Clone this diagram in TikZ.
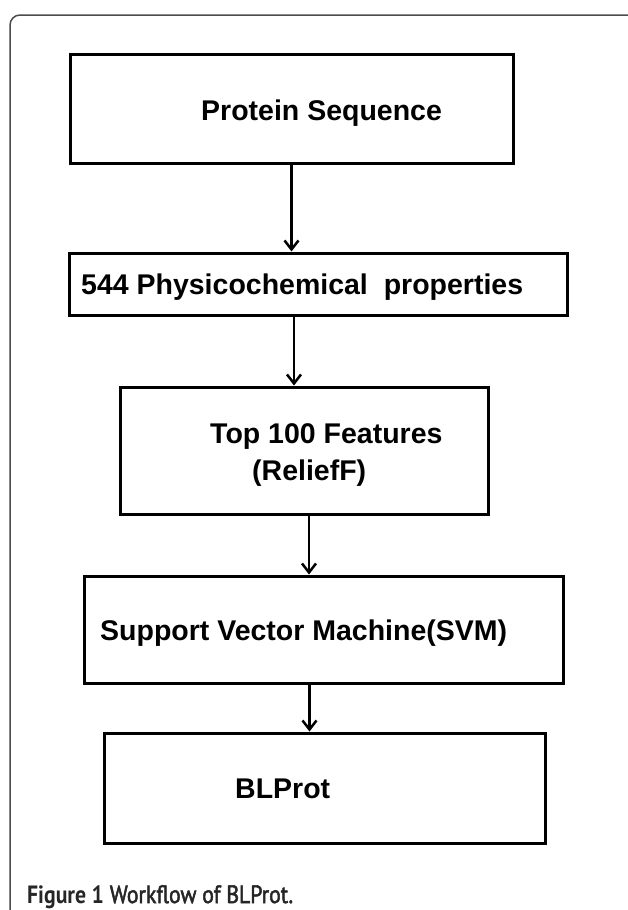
\documentclass[tikz,border=0pt]{standalone}
\usepackage{fontspec}
\setmainfont{Liberation Sans}
\newfontfamily\capfont[FakeStretch=0.87, UprightFeatures={FakeBold=2}]{PT Sans}
\usetikzlibrary{arrows.meta}

\tikzset{
  stage/.style={draw, line width=3pt, inner sep=0pt},
  lbl/.style={font=\fontsize{28.5}{37}\selectfont\bfseries, inner sep=0pt, anchor=base west},
  flow/.style={line width=2.5pt, -{Straight Barb[length=9pt,width=14pt]}}
}

\begin{document}
\begin{tikzpicture}[x=1pt,y=-1pt]
\useasboundingbox (0,0) rectangle (628,910);
\draw[black!70, line width=1.5pt, rounded corners=10pt] (10,930) -- (10,15) -- (650,15);

\node[stage, minimum width=443pt, minimum height=109pt] (seq) at (291.5,108.5) {};
\node[lbl] (seqtxt) at (201,120) {Protein Sequence};

\node[stage, minimum width=498pt, minimum height=62pt] (prop) at (318,284) {};
\node[lbl] (proptxt) at (81,294) {544 Physicochemical\ \ properties};

\node[stage, minimum width=368pt, minimum height=127pt] (feat) at (304,450.5) {};
\node[lbl] (feattxt) at (210,443) {Top 100 Features};
\node[lbl] (relieftxt) at (252,480) {(ReliefF)};

\node[stage, minimum width=479pt, minimum height=107pt] (svm) at (323.5,629.5) {};
\node[lbl] (svmtxt) at (100,640) {Support Vector Machine(SVM)};

\node[stage, minimum width=441pt, minimum height=110pt] (blp) at (324.5,788) {};
\node[lbl] (blptxt) at (235,798) {BLProt};

\draw[flow] (seq.south) -- (seq.south |- prop.north);
\draw[flow] ([xshift=-10pt]feat.north |- prop.south) -- ([xshift=-10pt]feat.north);
\draw[flow] ([xshift=5pt]feat.south) -- ([xshift=5pt]feat.south |- svm.north);
\draw[flow] ([xshift=-15pt]blp.north |- svm.south) -- ([xshift=-15pt]blp.north);

\node[font=\capfont\fontsize{25}{29}\selectfont, text=black!85, inner sep=0pt, anchor=base west] (cap) at (27,903)
  {\textbf{Figure 1} Workflow of BLProt.};
\end{tikzpicture}
\end{document}
